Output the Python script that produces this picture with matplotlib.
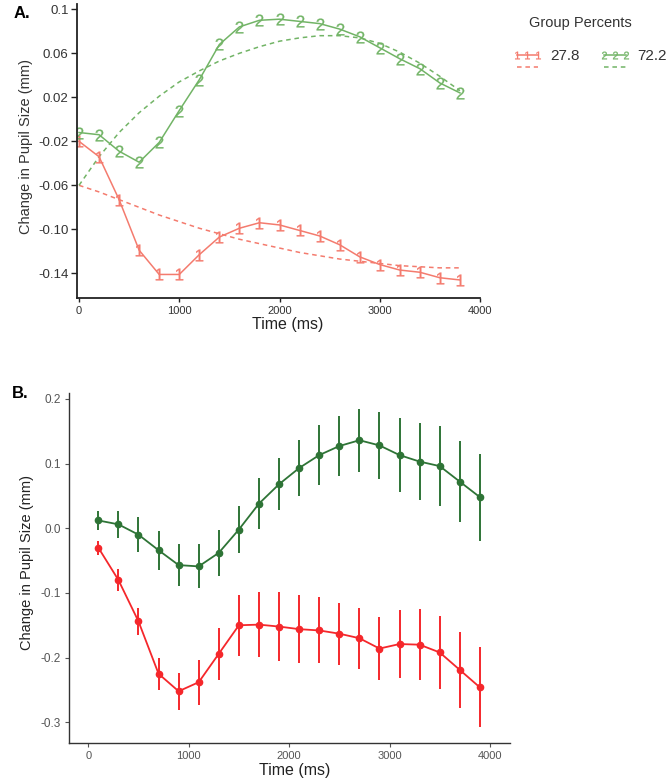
import matplotlib
matplotlib.use("Agg")
import matplotlib.pyplot as plt
from matplotlib.lines import Line2D

plt.rcParams['font.family'] = ['Liberation Sans', 'DejaVu Sans']
plt.rcParams['mathtext.fontset'] = 'custom'
plt.rcParams['mathtext.rm'] = 'Liberation Sans'
plt.rcParams['mathtext.it'] = 'Liberation Sans'

# ---------------- Panel A data ----------------
time_a = [0, 200, 400, 600, 800, 1000, 1200, 1400, 1600, 1800,
          2000, 2200, 2400, 2600, 2800, 3000, 3200, 3400, 3600, 3800]
red_a = [-0.020, -0.034, -0.073, -0.119, -0.141, -0.141, -0.123, -0.107, -0.099, -0.094,
         -0.096, -0.101, -0.106, -0.114, -0.125, -0.132, -0.137, -0.139, -0.144, -0.146]
red_a_fit = [-0.060, -0.066, -0.073, -0.080, -0.087, -0.093, -0.099, -0.104, -0.109, -0.113,
             -0.117, -0.121, -0.124, -0.127, -0.129, -0.131, -0.133, -0.134, -0.135, -0.135]
green_a = [-0.012, -0.014, -0.029, -0.039, -0.021, 0.008, 0.036, 0.068, 0.084, 0.090,
           0.091, 0.089, 0.087, 0.082, 0.075, 0.065, 0.055, 0.046, 0.033, 0.024]
green_a_fit = [-0.060, -0.034, -0.012, 0.006, 0.021, 0.034, 0.044, 0.053, 0.060, 0.066,
               0.071, 0.074, 0.076, 0.076, 0.074, 0.069, 0.061, 0.051, 0.039, 0.026]
group_labels = ['27.8', '72.2']
yticks_a = [0.1, 0.06, 0.02, -0.02, -0.06, -0.10, -0.14]
yticklabels_a = ['0.1', '0.06', '0.02', '-0.02', '-0.06', '-0.10', '-0.14']
xticks = [0, 1000, 2000, 3000, 4000]

# ---------------- Panel B data ----------------
time_b = [100, 300, 500, 700, 900, 1100, 1300, 1500, 1700, 1900,
          2100, 2300, 2500, 2700, 2900, 3100, 3300, 3500, 3700, 3900]
green_b = [0.012, 0.006, -0.010, -0.034, -0.057, -0.059, -0.038, -0.002, 0.038, 0.068,
           0.093, 0.113, 0.127, 0.136, 0.128, 0.113, 0.103, 0.096, 0.072, 0.048]
green_b_err = [0.015, 0.021, 0.027, 0.030, 0.032, 0.034, 0.036, 0.036, 0.039, 0.040,
               0.043, 0.046, 0.047, 0.049, 0.052, 0.057, 0.060, 0.062, 0.063, 0.067]
red_b = [-0.030, -0.080, -0.144, -0.225, -0.252, -0.238, -0.194, -0.150, -0.149, -0.152,
         -0.156, -0.158, -0.163, -0.170, -0.186, -0.179, -0.180, -0.192, -0.219, -0.246]
red_b_err = [0.011, 0.017, 0.021, 0.025, 0.029, 0.035, 0.040, 0.047, 0.050, 0.053,
             0.053, 0.051, 0.048, 0.047, 0.049, 0.053, 0.055, 0.057, 0.059, 0.062]
yticks_b = [0.2, 0.1, 0.0, -0.1, -0.2, -0.3]
yticklabels_b = ['0.2', '0.1', '0.0', '-0.1', '-0.2', '-0.3']

RED_A = '#F47B6E'
GREEN_A = '#72B466'
RED_B = '#F5272B'
GREEN_B = '#2E7436'
DASH = (0, (3, 2.5))

fig = plt.figure(figsize=(6.69, 7.80), dpi=100)

# ---------------- Panel A ----------------
axA = fig.add_axes([77/669, 1-298/780, 403/669, 294/780])
axA.plot(time_a, red_a_fit, color=RED_A, lw=1.1, ls=DASH)
axA.plot(time_a, green_a_fit, color=GREEN_A, lw=1.1, ls=DASH)
axA.plot(time_a, red_a, color=RED_A, lw=1.1, marker=r'$\mathrm{1}$', ms=8.5, mew=0.2)
axA.plot(time_a, green_a, color=GREEN_A, lw=1.1, marker=r'$\mathrm{2}$', ms=8.5, mew=0.2)
axA.set_xlim(-20, 4000)
axA.set_ylim(-0.1624, 0.1048)
axA.set_xticks(xticks)
axA.set_xticklabels([str(t) for t in xticks], fontsize=8, color='#333333')
axA.set_yticks(yticks_a)
axA.set_yticklabels(yticklabels_a, fontsize=9.5, color='#333333')
for s in ['top', 'right']:
    axA.spines[s].set_visible(False)
for s in ['left', 'bottom']:
    axA.spines[s].set_linewidth(1.3)
    axA.spines[s].set_color('#222222')
axA.tick_params(axis='both', length=4, width=1, color='#222222', pad=2)
axA.tick_params(axis='x', length=3, pad=3)
axA.set_xlabel('Time (ms)', fontsize=11.5, color='#222222')
axA.xaxis.set_label_coords(0.524, -0.066)
axA.set_ylabel('Change in Pupil Size (mm)', fontsize=10.5, color='#333333')
axA.yaxis.set_label_coords(-0.108, 0.514)

h_r = Line2D([], [], color=RED_A, lw=1.1, marker=r'$\mathrm{1}$', ms=5.5, mew=0.2)
h_rf = Line2D([], [], color=RED_A, lw=1.1, ls=DASH)
h_g = Line2D([], [], color=GREEN_A, lw=1.1, marker=r'$\mathrm{2}$', ms=5.5, mew=0.2)
h_gf = Line2D([], [], color=GREEN_A, lw=1.1, ls=DASH)
leg = fig.legend([h_r, h_rf, h_g, h_gf], [group_labels[0], '', group_labels[1], ''],
                 ncol=2, loc='upper left',
                 bbox_to_anchor=(512/669, 1-49/780), frameon=False,
                 fontsize=11, handlelength=2.0, numpoints=3,
                 columnspacing=1.3, labelspacing=-0.12, handletextpad=0.5,
                 borderpad=0, borderaxespad=0)
for t in leg.get_texts():
    t.set_color('#333333')
fig.text(580/669, 1-23/780, 'Group Percents', fontsize=10.5, color='#333333',
         ha='center', va='center')

fig.text(14/669, 1-13/780, 'A.', fontsize=12, fontweight='bold', va='center', ha='left')

# ---------------- Panel B ----------------
axB = fig.add_axes([69/669, 1-742.7/780, 441/669, 349.7/780])
axB.errorbar(time_b, green_b, yerr=green_b_err, color=GREEN_B, lw=1.3,
             elinewidth=1.4, marker='o', ms=4.5, capsize=0)
axB.errorbar(time_b, red_b, yerr=red_b_err, color=RED_B, lw=1.3,
             elinewidth=1.4, marker='o', ms=4.5, capsize=0)
axB.set_xlim(-192, 4200)
axB.set_ylim(-0.3315, 0.209)
axB.set_xticks(xticks)
axB.set_xticklabels([str(t) for t in xticks], fontsize=8, color='#555555')
axB.set_yticks(yticks_b)
axB.set_yticklabels(yticklabels_b, fontsize=8.5, color='#555555')
for s in ['top', 'right']:
    axB.spines[s].set_visible(False)
for s in ['left', 'bottom']:
    axB.spines[s].set_linewidth(1.0)
    axB.spines[s].set_color('#333333')
axB.tick_params(axis='both', length=3, width=0.8, color='#555555', pad=3)
axB.set_xlabel('Time (ms)', fontsize=11.5, color='#222222')
axB.xaxis.set_label_coords(0.512, -0.058)
axB.set_ylabel('Change in Pupil Size (mm)', fontsize=10.5, color='#222222')
axB.yaxis.set_label_coords(-0.079, 0.514)

fig.text(12/669, 1-394/780, 'B.', fontsize=12, fontweight='bold', va='center', ha='left')

fig.savefig('out.png', dpi=100, facecolor='white')
